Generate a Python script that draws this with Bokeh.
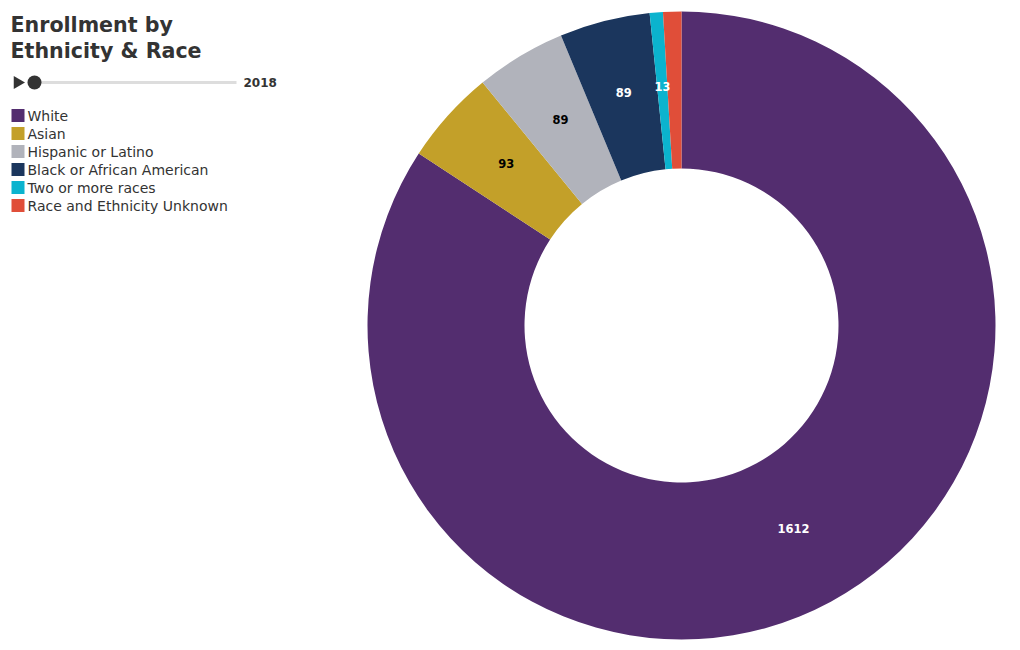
import math
from bokeh.plotting import figure
from bokeh.models import Range1d, ColumnDataSource
from bokeh.core.properties import value
from bokeh.embed import file_html
from bokeh.resources import INLINE

# ---- data ----
categories = ["White", "Asian", "Hispanic or Latino", "Black or African American",
              "Two or more races", "Race and Ethnicity Unknown"]
enrollment = [1612, 93, 89, 89, 13, 18]
colors = ["#532D6F", "#C3A029", "#B1B3BB", "#1B365D", "#0BB3CE", "#E04E39"]
label_colors = ["white", "black", "black", "white", "white", "white"]
show_label = [True, True, True, True, True, False]
year = "2018"
title_lines = ["Enrollment by", "Ethnicity & Race"]

FONT = "DejaVu Sans"
W, H = 1004, 642

p = figure(width=W, height=H, output_backend="svg", toolbar_location=None,
           x_range=Range1d(0, W), y_range=Range1d(-H, 0),
           min_border=0, min_border_left=0, min_border_right=0,
           min_border_top=0, min_border_bottom=0)
p.axis.visible = False
p.grid.visible = False
p.outline_line_color = None
p.background_fill_color = "white"
p.border_fill_color = "white"

# ---- donut ----
cx, cy = 681, -325
r_out, r_in = 314, 157
total = sum(enrollment)
starts, ends, lx, ly, labels, lcols = [], [], [], [], [], []
cum = 0.0
for v, show, lc in zip(enrollment, show_label, label_colors):
    a0 = cum / total * 2 * math.pi
    a1 = (cum + v) / total * 2 * math.pi
    cum += v
    starts.append(math.pi / 2 - a1)
    ends.append(math.pi / 2 - a0)
    mid = (a0 + a1) / 2
    rm = (r_out + r_in) / 2
    if show:
        lx.append(cx + rm * math.sin(mid))
        ly.append(cy + rm * math.cos(mid) + 4.5)
        labels.append(str(v))
        lcols.append(lc)

src = ColumnDataSource(dict(start=starts, end=ends, color=colors))
p.annular_wedge(x=cx, y=cy, inner_radius=r_in, outer_radius=r_out,
                start_angle="start", end_angle="end", direction="anticlock",
                fill_color="color", line_color=None, source=src)

p.text(x=lx, y=ly, text=labels, text_color=lcols, text_font=value(FONT),
       text_font_size="11.5px", text_font_style="bold", text_align="center",
       text_baseline="middle")

# ---- title ----
p.text(x=[10, 10], y=[-24, -50], text=title_lines, text_color="#333333",
       text_font=value(FONT), text_font_size="20.6px", text_font_style="bold",
       text_align="left", text_baseline="middle")

# ---- slider ----
p.line(x=[34, 236], y=[-82, -82], line_color="#DDDDDD", line_width=3)
p.scatter(x=[17], y=[-82], marker="triangle", size=13, angle=-math.pi / 2,
          fill_color="#333333", line_color=None)
p.scatter(x=[34], y=[-82], marker="circle", size=14,
          fill_color="#333333", line_color=None)
p.text(x=[243], y=[-82], text=[year], text_color="#333333", text_font=value(FONT),
       text_font_size="12px", text_font_style="bold", text_align="left",
       text_baseline="middle")

# ---- legend ----
ys = [-115 - 18 * i for i in range(len(categories))]
p.scatter(x=[17.5] * len(categories), y=ys, marker="square", size=13,
          fill_color=colors, line_color=None)
p.text(x=[27] * len(categories), y=ys, text=categories, text_color="#333333",
       text_font=value(FONT), text_font_size="14px", text_align="left",
       text_baseline="middle")

open("out.html", "w").write(file_html(p, INLINE))
